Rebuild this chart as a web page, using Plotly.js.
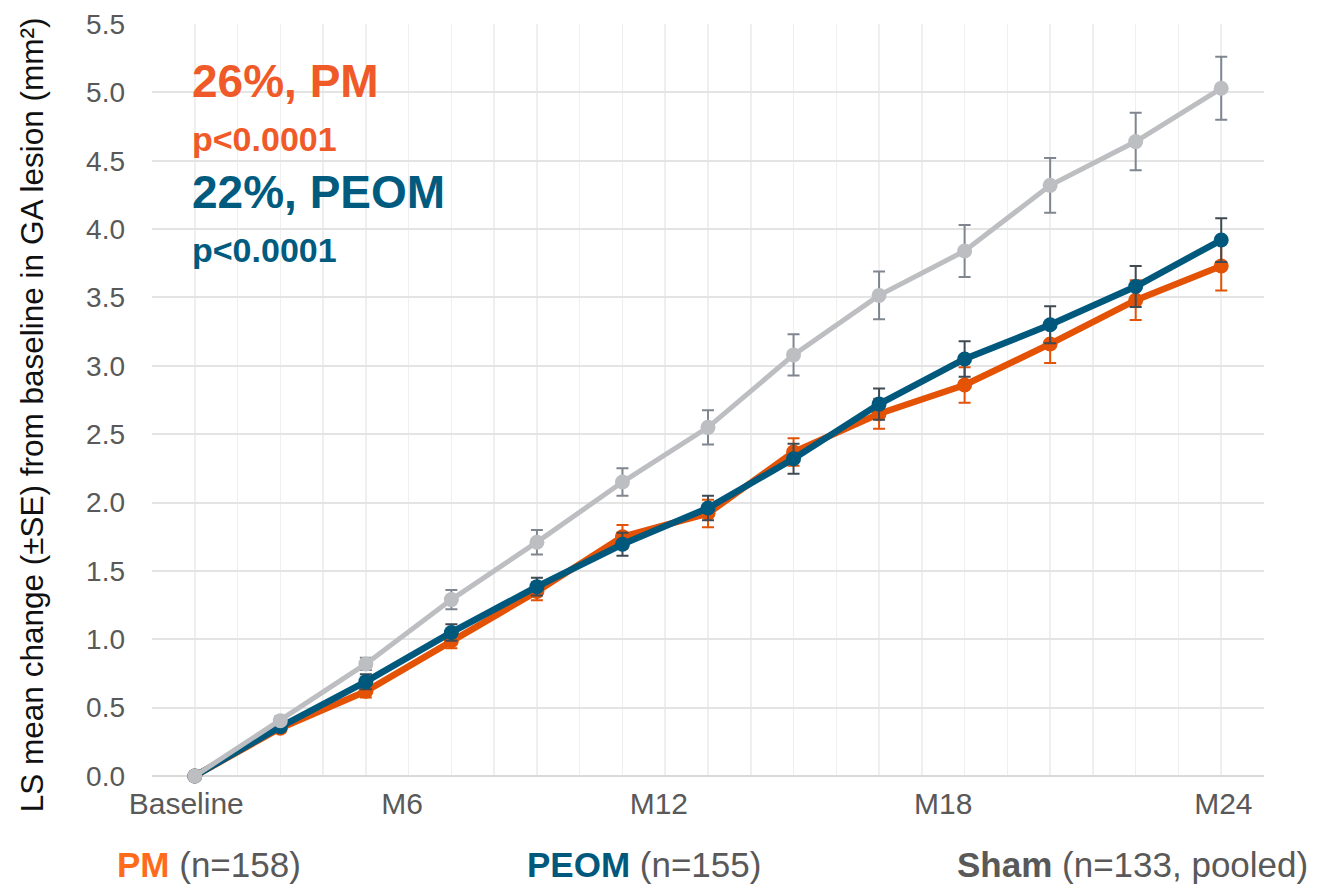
<!DOCTYPE html>
<html>
<head>
<meta charset="utf-8">
<script src="https://cdn.plot.ly/plotly-3.0.1.min.js"></script>
<style>
  html, body { margin: 0; padding: 0; background: #ffffff; }
  #chart_area { width: 1330px; height: 889px; }
</style>
</head>
<body>
<div id="chart_area"></div>
<script>
// months from baseline
var months = [0, 2, 4, 6, 8, 10, 12, 14, 16, 18, 20, 22, 24];

// LS mean change and SE
var pm      = [0, 0.35, 0.62, 0.99, 1.35, 1.75, 1.92, 2.37, 2.65, 2.86, 3.16, 3.48, 3.73];
var pmSE    = [0, 0.03, 0.045, 0.055, 0.065, 0.085, 0.10, 0.10, 0.11, 0.13, 0.14, 0.145, 0.18];
var peom    = [0, 0.36, 0.69, 1.05, 1.385, 1.695, 1.96, 2.32, 2.72, 3.05, 3.30, 3.58, 3.92];
var peomSE  = [0, 0.03, 0.055, 0.06, 0.065, 0.085, 0.09, 0.11, 0.115, 0.13, 0.135, 0.15, 0.16];
var sham    = [0, 0.405, 0.82, 1.29, 1.71, 2.15, 2.55, 3.08, 3.515, 3.84, 4.32, 4.64, 5.03];
var shamSE  = [0, 0.03, 0.045, 0.07, 0.09, 0.10, 0.125, 0.15, 0.175, 0.19, 0.20, 0.21, 0.23];

// x axis labels (placed where the original shows them)
var tickLabels = ['Baseline', 'M6', 'M12', 'M18', 'M24'];
var tickPos    = [-0.2, 4.85, 10.85, 17.5, 24.05];

var FONT = 'Liberation Sans, Arial, sans-serif';

function series(y, se, lineColor, barColor, width) {
  return {
    type: 'scatter',
    mode: 'lines+markers',
    x: months,
    y: y,
    cliponaxis: false,
    line: { color: lineColor, width: width },
    marker: { color: lineColor, size: 15 },
    error_y: { type: 'data', array: se, visible: true, color: barColor, thickness: 2, width: 6 },
    hoverinfo: 'x+y'
  };
}

var data = [
  series(pm, pmSE, '#E35205', '#E35205', 6.5),
  series(peom, peomSE, '#00587C', '#3F4A52', 6.5),
  series(sham, shamSE, '#BDBEC1', '#7F8690', 5)
];

var layout = {
  width: 1330,
  height: 889,
  showlegend: false,
  paper_bgcolor: '#ffffff',
  plot_bgcolor: '#ffffff',
  margin: { l: 152, r: 66, t: 24, b: 113 },
  font: { family: FONT, color: '#595959' },
  xaxis: {
    range: [-1, 25],
    tickmode: 'array',
    tickvals: tickPos,
    ticktext: tickLabels,
    showgrid: false,
    zeroline: false,
    ticks: '',
    ticklabelstandoff: 7,
    tickfont: { size: 30, color: '#595959', family: FONT },
    minor: { tickmode: 'linear', tick0: 0, dtick: 1, showgrid: true, gridcolor: '#EFEFEF', gridwidth: 1.5, ticks: '' },
    showline: false,
    fixedrange: true
  },
  yaxis: {
    range: [0, 5.5],
    dtick: 0.5,
    tick0: 0,
    tickformat: '.1f',
    showgrid: true,
    gridcolor: '#E4E4E4',
    gridwidth: 2,
    zeroline: true,
    zerolinecolor: '#D9D9D9',
    zerolinewidth: 2,
    ticks: '',
    ticklabelstandoff: 26,
    tickfont: { size: 28, color: '#595959', family: FONT },
    fixedrange: true
  },
  annotations: [
    // y axis title, set as an annotation so it can sit where the original has it
    { xref: 'paper', yref: 'paper', x: -0.108, y: 0.481, xanchor: 'center', yanchor: 'middle', showarrow: false,
      textangle: -90, text: 'LS mean change (±SE) from baseline in GA lesion (mm²)',
      font: { size: 31.5, color: '#111111', family: FONT } },

    { xref: 'x', yref: 'y', x: -0.12, y: 5.08, xanchor: 'left', yanchor: 'middle', showarrow: false,
      text: '<b>26%, PM</b>', font: { size: 46, color: '#F05A28', family: FONT } },
    { xref: 'x', yref: 'y', x: -0.12, y: 4.66, xanchor: 'left', yanchor: 'middle', showarrow: false,
      text: '<b>p<0.0001</b>', font: { size: 34, color: '#F05A28', family: FONT } },
    { xref: 'x', yref: 'y', x: -0.12, y: 4.27, xanchor: 'left', yanchor: 'middle', showarrow: false,
      text: '<b>22%, PEOM</b>', font: { size: 46, color: '#005B7F', family: FONT } },
    { xref: 'x', yref: 'y', x: -0.12, y: 3.85, xanchor: 'left', yanchor: 'middle', showarrow: false,
      text: '<b>p<0.0001</b>', font: { size: 34, color: '#005B7F', family: FONT } },

    { xref: 'paper', yref: 'paper', x: -0.033, y: -0.118, xanchor: 'left', yanchor: 'middle', showarrow: false,
      text: '<span style="color:#FF6B1A"><b>PM</b></span> (n=158)', font: { size: 35, color: '#595959', family: FONT } },
    { xref: 'paper', yref: 'paper', x: 0.335, y: -0.118, xanchor: 'left', yanchor: 'middle', showarrow: false,
      text: '<span style="color:#00587C"><b>PEOM</b></span> (n=155)', font: { size: 35, color: '#595959', family: FONT } },
    { xref: 'paper', yref: 'paper', x: 0.722, y: -0.118, xanchor: 'left', yanchor: 'middle', showarrow: false,
      text: '<b>Sham</b> (n=133, pooled)', font: { size: 35, color: '#595959', family: FONT } }
  ]
};

var config = { responsive: false, displayModeBar: false, staticPlot: true };

Plotly.newPlot('chart_area', data, layout, config);
</script>
</body>
</html>
